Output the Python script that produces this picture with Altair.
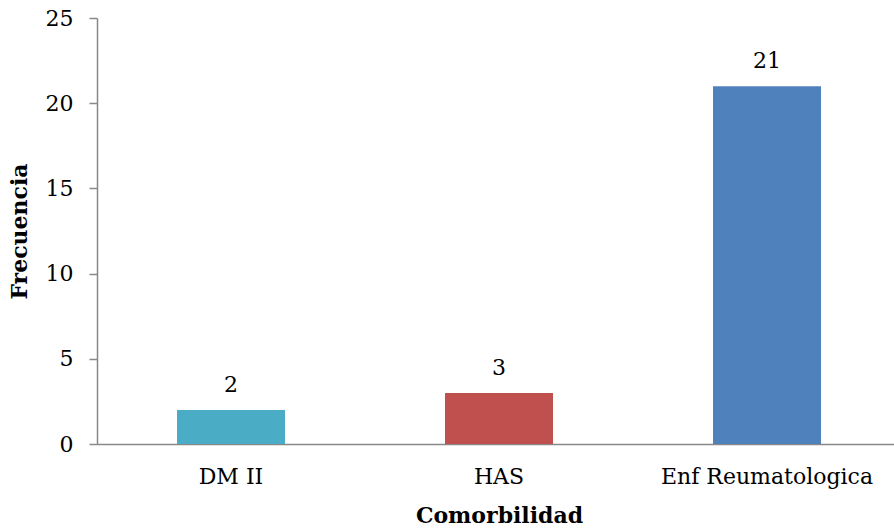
import altair as alt
import pandas as pd

categories = ["DM II", "HAS", "Enf Reumatologica"]
values = [2, 3, 21]
colors = ["#4BACC6", "#C0504D", "#4F81BD"]

df = pd.DataFrame({"cat": categories, "val": values, "color": colors})

FONT = "DejaVu Serif"

x = alt.X("cat:N", sort=categories, title="Comorbilidad",
          scale=alt.Scale(range=[0, 804], paddingInner=0, paddingOuter=0),
          axis=alt.Axis(labelAngle=0, ticks=False, labelPadding=22, titlePadding=18,
                        labelFontSize=22, titleFontSize=22, titleFontWeight="bold",
                        labelLimit=0, titleX=402, domainColor="#888888", domainWidth=1.5))
y = alt.Y("val:Q", title="Frecuencia",
          scale=alt.Scale(domain=[0, 25], nice=False),
          axis=alt.Axis(values=[0, 5, 10, 15, 20, 25], grid=False, tickSize=8,
                        labelPadding=16, titlePadding=14,
                        labelFontSize=22, titleFontSize=22, titleFontWeight="bold",
                        domainColor="#888888", tickColor="#888888",
                        domainWidth=1.5, tickWidth=1.5))

bars = alt.Chart(df).mark_bar(size=108).encode(
    x=x, y=y, color=alt.Color("color:N", scale=None)
)
labels = alt.Chart(df).mark_text(baseline="alphabetic", dy=-18, fontSize=22, font=FONT, color="black").encode(
    x=alt.X("cat:N", sort=categories), y="val:Q", text="val:Q"
)

chart = (bars + labels).properties(
    width=797, height=426,
    autosize=alt.AutoSizeParams(type="none"),
    padding={"left": 97, "top": 18, "right": 0, "bottom": 87},
).configure(font=FONT).configure_axis(
    labelFont=FONT, titleFont=FONT, labelColor="black", titleColor="black"
).configure_view(stroke=None)

chart.save("out.html", embed_options={"renderer": "svg", "actions": False})
